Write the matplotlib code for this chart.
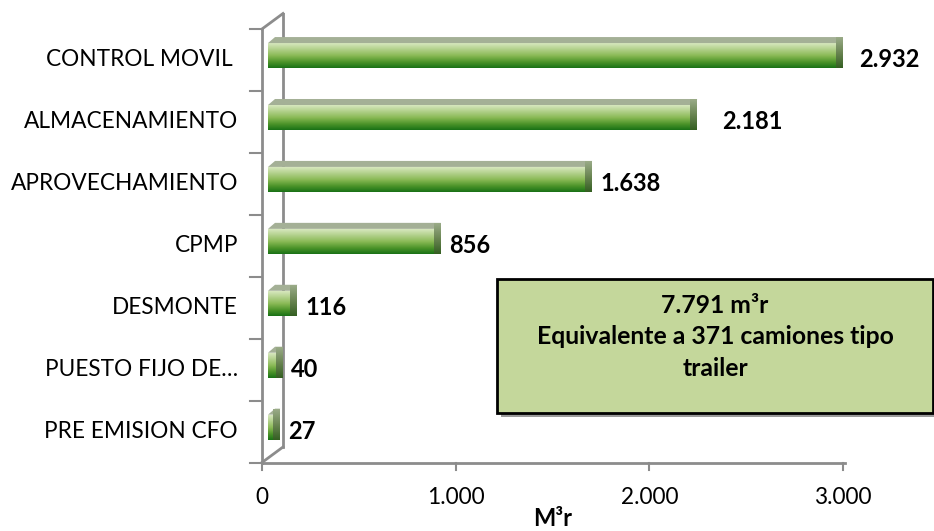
import numpy as np
import matplotlib.pyplot as plt
from matplotlib.colors import LinearSegmentedColormap
from matplotlib.patches import Polygon, Rectangle

plt.rcParams['font.family'] = ['Lato', 'DejaVu Sans']

# datos
categorias = ['CONTROL MOVIL ', 'ALMACENAMIENTO', 'APROVECHAMIENTO', 'CPMP',
              'DESMONTE', 'PUESTO FIJO DE…', 'PRE EMISION CFO']
valores = [2932, 2181, 1638, 856, 116, 40, 27]
etiquetas = ['2.932', '2.181', '1.638', '856', '116', '40', '27']
ticks_x = [0, 1000, 2000, 3000]
ticks_lbl = ['0', '1.000', '2.000', '3.000']
total_txt = '7.791 m³r\nEquivalente a 371 camiones tipo\ntrailer'

# separacion extra de las etiquetas (px), como en el original
sep_extra = [8, 17, 0, 0, 0, 0, 0]

W, H = 934, 531
fig = plt.figure(figsize=(W / 100, H / 100), dpi=100)
fig.patch.set_facecolor('white')

# plano frontal del grafico en pixeles
x0p, x1p = 262, 843
ytop, ybot = 29, 462.5
ax = fig.add_axes([x0p / W, (H - ybot) / H, (x1p - x0p) / W, (ybot - ytop) / H])
ax.set_xlim(0, 3000)
ax.set_ylim(-0.5, 6.5)
ax.axis('off')

n = len(categorias)
px = 3000 / (x1p - x0p)      # unidades x por pixel
py = n / (ybot - ytop)       # unidades y por pixel

gris = '#8c8c8c'
# paredes 3D
wdx, wdy = 21 * px, 15.5 * py
ax.plot([0, 0], [-0.5, 6.5], color=gris, lw=2, clip_on=False, zorder=1)
ax.plot([wdx, wdx], [-0.5 + wdy, 6.5 + wdy], color=gris, lw=2, clip_on=False, zorder=1)
ax.plot([0, wdx], [6.5, 6.5 + wdy], color=gris, lw=2, clip_on=False, zorder=1)
ax.plot([0, wdx], [-0.5, -0.5 + wdy], color=gris, lw=2, clip_on=False, zorder=1)
ax.plot([0, 3000 + 2 * px], [-0.5, -0.5], color=gris, lw=2, clip_on=False, zorder=1)
for k in range(n + 1):
    ax.plot([-12 * px, 0], [-0.5 + k, -0.5 + k], color=gris, lw=1.5, clip_on=False, zorder=1)
for t in ticks_x:
    ax.plot([t, t], [-0.5, -0.5 - 7 * py], color=gris, lw=1.5, clip_on=False, zorder=1)

cm_frente = LinearSegmentedColormap.from_list(
    'frente', ['#d6e7bd', '#b1d08a', '#8aba56', '#4f962b', '#1a7216'])
cm_lado = LinearSegmentedColormap.from_list('lado', ['#9aab88', '#6a8552', '#345f22'])
grad = np.linspace(0, 1, 64).reshape(-1, 1)

off_x, off_y = 6 * px, 4.4 * py
dx, dy = 7 * px, 6 * py
alto = 25 * py
for i, (cat, v, lbl) in enumerate(zip(categorias, valores, etiquetas)):
    yc = n - 1 - i
    xa, xb = off_x, v + off_x
    yb, yt = yc + off_y - alto / 2, yc + off_y + alto / 2
    ax.imshow(grad, cmap=cm_frente, extent=[xa, xb, yb, yt], aspect='auto',
              origin='upper', zorder=3, clip_on=False)
    ax.add_patch(Polygon([[xa, yt], [xb, yt], [xb + dx, yt + dy], [xa + dx, yt + dy]],
                         closed=True, facecolor='#a4b096', edgecolor='none',
                         zorder=3, clip_on=False))
    lado = Polygon([[xb, yb], [xb, yt], [xb + dx, yt + dy], [xb + dx, yb + dy]],
                   closed=True, facecolor='none', edgecolor='none', zorder=3, clip_on=False)
    ax.add_patch(lado)
    im = ax.imshow(grad, cmap=cm_lado, extent=[xb, xb + dx, yb, yt + dy], aspect='auto',
                   origin='upper', zorder=3, clip_on=False)
    im.set_clip_path(lado)
    ax.text(-24 * px, yc, cat, ha='right', va='center', fontsize=16.3, color='black')
    ax.text(xb + dx + (8 + sep_extra[i]) * px, yc, lbl, ha='left', va='center',
            fontsize=17, fontweight='bold', color='black')

for t, s in zip(ticks_x, ticks_lbl):
    ax.text(t, -0.5 - 35 * py, s, ha='center', va='center', fontsize=16.3)
ax.text(1500, -0.5 - 56 * py, 'M³r', ha='center', va='center', fontsize=17,
        fontweight='bold', clip_on=False)

# cuadro de total
bx0, by0, bx1, by1 = 497, 279, 933, 413
fig.patches.append(Rectangle(((bx0 + 4) / W, (H - by1 - 4) / H), (bx1 - bx0) / W,
                             (by1 - by0) / H, transform=fig.transFigure,
                             facecolor='#9a9a9a', edgecolor='none', zorder=5))
fig.patches.append(Rectangle((bx0 / W, (H - by1) / H), (bx1 - bx0) / W,
                             (by1 - by0) / H, transform=fig.transFigure,
                             facecolor='#c4d79b', edgecolor='black', lw=2, zorder=6))
fig.text((bx0 + bx1) / 2 / W, (H - 337) / H, total_txt, ha='center', va='center',
         fontsize=17.8, fontweight='bold', linespacing=1.45, zorder=7)

fig.savefig('out.png', dpi=100)
